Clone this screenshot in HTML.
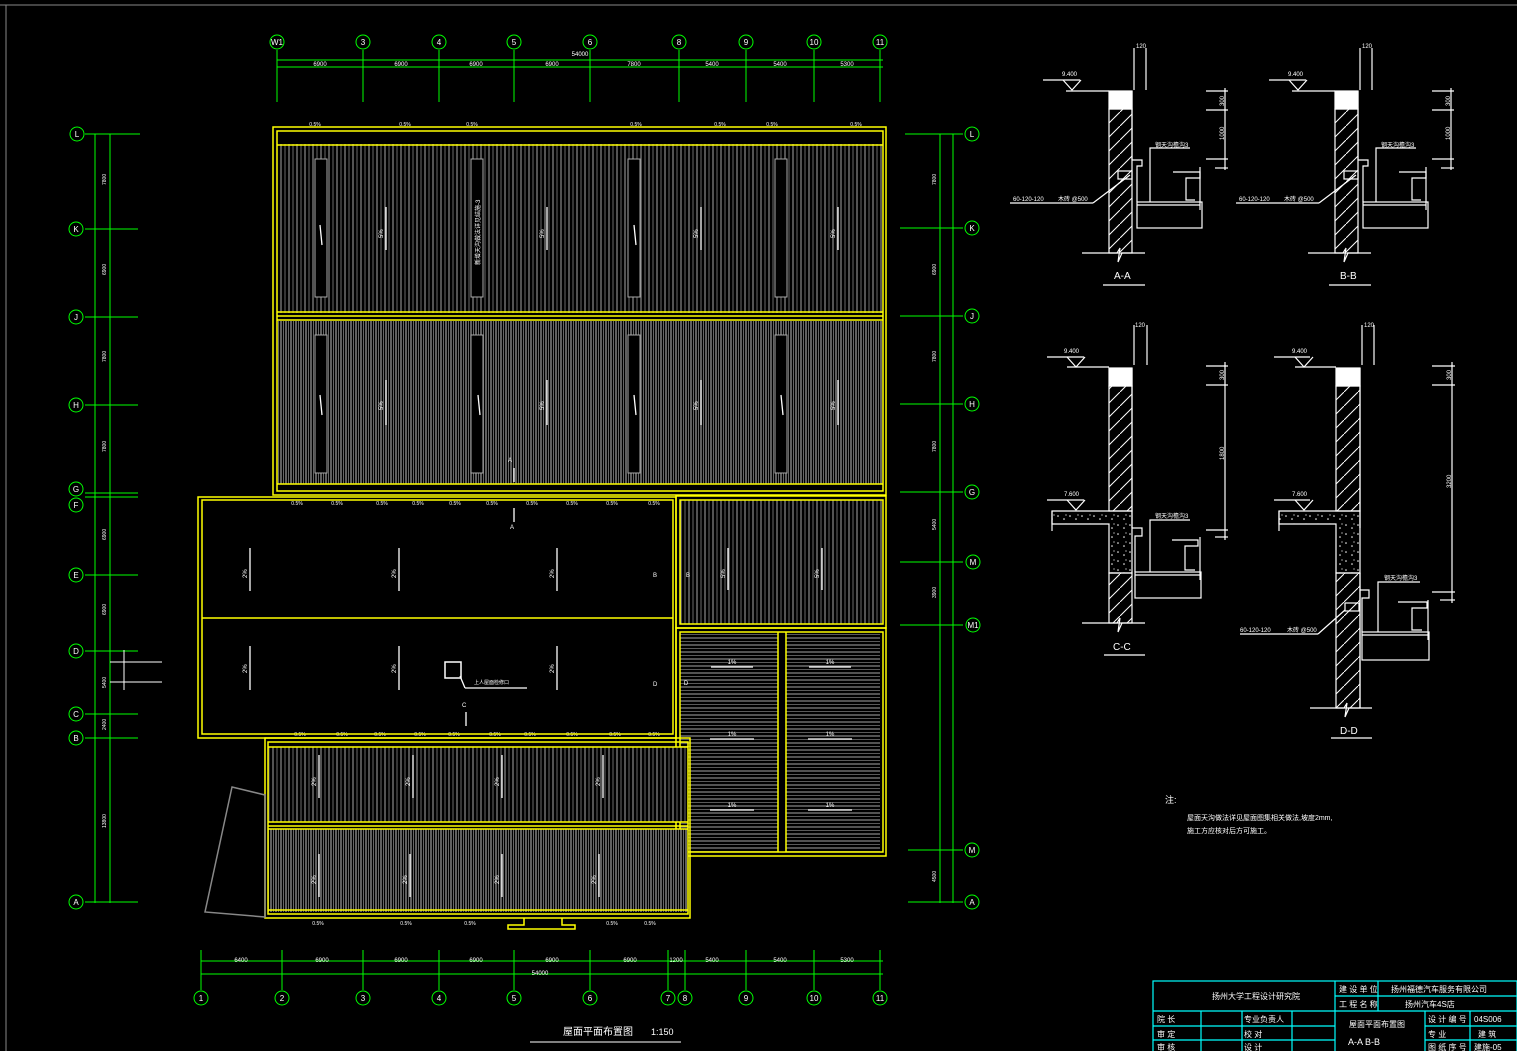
<!DOCTYPE html>
<html><head><meta charset="utf-8"><style>
html,body{margin:0;padding:0;background:#000;}
svg{display:block;}
text{font-family:"Liberation Sans","Noto Sans CJK SC",sans-serif;fill:#fff;}
</style></head><body>
<svg width="1517" height="1051" viewBox="0 0 1517 1051" xmlns="http://www.w3.org/2000/svg">
<defs>
<pattern id="vs" patternUnits="userSpaceOnUse" width="8" height="10"><rect width="8" height="10" fill="#000"/><line x1="1" y1="0" x2="1" y2="10" stroke="#8a8a8a" stroke-width="1.2"/><line x1="5" y1="0" x2="5" y2="10" stroke="#6a6a6a" stroke-width="1"/></pattern>
<pattern id="vsd" patternUnits="userSpaceOnUse" width="5" height="10"><rect width="5" height="10" fill="#000"/><line x1="1" y1="0" x2="1" y2="10" stroke="#8a8a8a" stroke-width="1.4"/><line x1="3.5" y1="0" x2="3.5" y2="10" stroke="#666" stroke-width="1"/></pattern>
<pattern id="hs" patternUnits="userSpaceOnUse" width="10" height="7"><rect width="10" height="7" fill="#000"/><line x1="0" y1="1" x2="10" y2="1" stroke="#8a8a8a" stroke-width="1.2"/><line x1="0" y1="4.5" x2="10" y2="4.5" stroke="#5a5a5a" stroke-width="1"/></pattern>
<pattern id="hatch" patternUnits="userSpaceOnUse" width="14" height="14"><line x1="0" y1="14" x2="14" y2="0" stroke="#fff" stroke-width="1"/></pattern>
<pattern id="conc" patternUnits="userSpaceOnUse" width="12" height="9"><circle cx="2" cy="3" r="0.8" fill="#fff"/><circle cx="8" cy="6" r="0.8" fill="#fff"/><circle cx="10" cy="2" r="0.6" fill="#fff"/></pattern>
</defs>
<rect width="1517" height="1051" fill="#000"/>
<!-- frame -->
<line x1="0" y1="5" x2="1517" y2="5" stroke="#888" stroke-width="1"/>
<line x1="6" y1="5" x2="6" y2="1051" stroke="#888" stroke-width="1"/>

<!-- ===== top axes ===== -->
<g stroke="#0f0" stroke-width="1" fill="none">
<line x1="277" y1="60" x2="883" y2="60"/><line x1="277" y1="67" x2="883" y2="67"/>
<line x1="277" y1="50" x2="277" y2="102"/><line x1="363" y1="50" x2="363" y2="102"/><line x1="439" y1="50" x2="439" y2="102"/><line x1="514" y1="50" x2="514" y2="102"/><line x1="590" y1="50" x2="590" y2="102"/><line x1="679" y1="50" x2="679" y2="102"/><line x1="746" y1="50" x2="746" y2="102"/><line x1="814" y1="50" x2="814" y2="102"/><line x1="880" y1="50" x2="880" y2="102"/>
<circle cx="277" cy="42" r="7"/><circle cx="363" cy="42" r="7"/><circle cx="439" cy="42" r="7"/><circle cx="514" cy="42" r="7"/><circle cx="590" cy="42" r="7"/><circle cx="679" cy="42" r="7"/><circle cx="746" cy="42" r="7"/><circle cx="814" cy="42" r="7"/><circle cx="880" cy="42" r="7"/>
<!-- bottom axes -->
<line x1="201" y1="961" x2="883" y2="961"/><line x1="201" y1="974" x2="883" y2="974"/>
<line x1="201" y1="950" x2="201" y2="990"/><line x1="282" y1="950" x2="282" y2="990"/><line x1="363" y1="950" x2="363" y2="990"/><line x1="439" y1="950" x2="439" y2="990"/><line x1="514" y1="950" x2="514" y2="990"/><line x1="590" y1="950" x2="590" y2="990"/><line x1="668" y1="950" x2="668" y2="990"/><line x1="685" y1="950" x2="685" y2="990"/><line x1="746" y1="950" x2="746" y2="990"/><line x1="814" y1="950" x2="814" y2="990"/><line x1="880" y1="950" x2="880" y2="990"/>
<circle cx="201" cy="998" r="7"/><circle cx="282" cy="998" r="7"/><circle cx="363" cy="998" r="7"/><circle cx="439" cy="998" r="7"/><circle cx="514" cy="998" r="7"/><circle cx="590" cy="998" r="7"/><circle cx="668" cy="998" r="7"/><circle cx="685" cy="998" r="7"/><circle cx="746" cy="998" r="7"/><circle cx="814" cy="998" r="7"/><circle cx="880" cy="998" r="7"/>
<!-- left axes -->
<line x1="95" y1="134" x2="95" y2="903"/><line x1="110" y1="134" x2="110" y2="903"/>
<line x1="85" y1="134" x2="140" y2="134"/><line x1="85" y1="229" x2="138" y2="229"/><line x1="85" y1="317" x2="138" y2="317"/><line x1="85" y1="405" x2="138" y2="405"/><line x1="85" y1="493" x2="138" y2="493"/><line x1="85" y1="497" x2="138" y2="497"/><line x1="85" y1="575" x2="138" y2="575"/><line x1="85" y1="651" x2="138" y2="651"/><line x1="85" y1="714" x2="138" y2="714"/><line x1="85" y1="738" x2="138" y2="738"/><line x1="85" y1="902" x2="138" y2="902"/>
<circle cx="77" cy="134" r="7"/><circle cx="76" cy="229" r="7"/><circle cx="76" cy="317" r="7"/><circle cx="76" cy="405" r="7"/><circle cx="76" cy="489" r="7"/><circle cx="76" cy="505" r="7"/><circle cx="76" cy="575" r="7"/><circle cx="76" cy="651" r="7"/><circle cx="76" cy="714" r="7"/><circle cx="76" cy="738" r="7"/><circle cx="76" cy="902" r="7"/>
<!-- right axes -->
<line x1="940" y1="134" x2="940" y2="903"/><line x1="953" y1="134" x2="953" y2="903"/>
<line x1="905" y1="134" x2="963" y2="134"/><line x1="900" y1="228" x2="963" y2="228"/><line x1="900" y1="316" x2="963" y2="316"/><line x1="900" y1="404" x2="963" y2="404"/><line x1="900" y1="492" x2="963" y2="492"/><line x1="900" y1="562" x2="963" y2="562"/><line x1="900" y1="625" x2="963" y2="625"/><line x1="908" y1="850" x2="963" y2="850"/><line x1="908" y1="902" x2="963" y2="902"/>
<circle cx="972" cy="134" r="7"/><circle cx="972" cy="228" r="7"/><circle cx="972" cy="316" r="7"/><circle cx="972" cy="404" r="7"/><circle cx="972" cy="492" r="7"/><circle cx="973" cy="562" r="7"/><circle cx="973" cy="625" r="7"/><circle cx="972" cy="850" r="7"/><circle cx="972" cy="902" r="7"/>
</g>
<g fill="#fff" font-size="8" text-anchor="middle">
<text x="277" y="45">W1</text><text x="363" y="45">3</text><text x="439" y="45">4</text><text x="514" y="45">5</text><text x="590" y="45">6</text><text x="679" y="45">8</text><text x="746" y="45">9</text><text x="814" y="45">10</text><text x="880" y="45">11</text>
<text x="201" y="1001">1</text><text x="282" y="1001">2</text><text x="363" y="1001">3</text><text x="439" y="1001">4</text><text x="514" y="1001">5</text><text x="590" y="1001">6</text><text x="668" y="1001">7</text><text x="685" y="1001">8</text><text x="746" y="1001">9</text><text x="814" y="1001">10</text><text x="880" y="1001">11</text>
<text x="77" y="137">L</text><text x="76" y="232">K</text><text x="76" y="320">J</text><text x="76" y="408">H</text><text x="76" y="492">G</text><text x="76" y="508">F</text><text x="76" y="578">E</text><text x="76" y="654">D</text><text x="76" y="717">C</text><text x="76" y="741">B</text><text x="76" y="905">A</text>
<text x="972" y="137">L</text><text x="972" y="231">K</text><text x="972" y="319">J</text><text x="972" y="407">H</text><text x="972" y="495">G</text><text x="973" y="565">M</text><text x="973" y="628">M1</text><text x="972" y="853">M</text><text x="972" y="905">A</text>
</g>
<g fill="#fff" font-size="6" text-anchor="middle">
<text x="320" y="66">6900</text><text x="401" y="66">6900</text><text x="476" y="66">6900</text><text x="552" y="66">6900</text><text x="634" y="66">7800</text><text x="712" y="66">5400</text><text x="780" y="66">5400</text><text x="847" y="66">5300</text><text x="580" y="56">54000</text>
<text x="241" y="962">6400</text><text x="322" y="962">6900</text><text x="401" y="962">6900</text><text x="476" y="962">6900</text><text x="552" y="962">6900</text><text x="630" y="962">6900</text><text x="676" y="962">1200</text><text x="712" y="962">5400</text><text x="780" y="962">5400</text><text x="847" y="962">5300</text><text x="540" y="975">54000</text>
</g>

<!-- ===== ROOF ===== -->
<!-- upper block -->
<rect x="277" y="131" width="606" height="360" fill="url(#vs)"/>
<rect x="277" y="131" width="606" height="13" fill="#000"/>
<rect x="277" y="313" width="606" height="8" fill="#000"/>
<rect x="277" y="321" width="606" height="170" fill="url(#vsd)"/>
<rect x="277" y="484" width="606" height="10" fill="#000"/>
<g fill="none" stroke="#ff0" stroke-width="1.5">
<rect x="273" y="127" width="613" height="368"/><rect x="277" y="131" width="606" height="360"/>
<line x1="277" y1="145" x2="883" y2="145"/><line x1="277" y1="312" x2="883" y2="312"/><line x1="277" y1="316" x2="883" y2="316"/><line x1="277" y1="320" x2="883" y2="320"/><line x1="277" y1="484" x2="883" y2="484"/>
</g>
<g fill="#000" stroke="#aaa" stroke-width="1">
<rect x="315" y="159" width="12" height="138"/><rect x="471" y="159" width="12" height="138"/><rect x="628" y="159" width="12" height="138"/><rect x="775" y="159" width="12" height="138"/>
<rect x="315" y="335" width="12" height="138"/><rect x="471" y="335" width="12" height="138"/><rect x="628" y="335" width="12" height="138"/><rect x="775" y="335" width="12" height="138"/>
</g>
<g stroke="#fff" stroke-width="1.3">
<line x1="386" y1="207" x2="386" y2="250"/><line x1="547" y1="207" x2="547" y2="250"/><line x1="701" y1="207" x2="701" y2="250"/><line x1="838" y1="207" x2="838" y2="250"/>
<line x1="386" y1="380" x2="386" y2="425"/><line x1="547" y1="380" x2="547" y2="425"/><line x1="701" y1="380" x2="701" y2="425"/><line x1="838" y1="380" x2="838" y2="425"/>
<line x1="320" y1="225" x2="322" y2="245"/><line x1="634" y1="225" x2="636" y2="245"/><line x1="320" y1="395" x2="322" y2="415"/><line x1="478" y1="395" x2="480" y2="415"/><line x1="634" y1="395" x2="636" y2="415"/><line x1="781" y1="395" x2="783" y2="415"/>
</g>
<g font-size="6" fill="#fff">
<text transform="translate(383,238) rotate(-90)">5%</text><text transform="translate(544,238) rotate(-90)">5%</text><text transform="translate(698,238) rotate(-90)">5%</text><text transform="translate(835,238) rotate(-90)">5%</text>
<text transform="translate(383,410) rotate(-90)">5%</text><text transform="translate(544,410) rotate(-90)">5%</text><text transform="translate(698,410) rotate(-90)">5%</text><text transform="translate(835,410) rotate(-90)">5%</text>
<text transform="translate(480,265) rotate(-90)">新增天沟做法详见结施-3</text>
</g>
<g font-size="5" fill="#fff" text-anchor="middle">
<text x="315" y="126">0.5%</text><text x="405" y="126">0.5%</text><text x="472" y="126">0.5%</text><text x="636" y="126">0.5%</text><text x="720" y="126">0.5%</text><text x="772" y="126">0.5%</text><text x="856" y="126">0.5%</text>
<text x="297" y="505">0.5%</text><text x="337" y="505">0.5%</text><text x="382" y="505">0.5%</text><text x="418" y="505">0.5%</text><text x="455" y="505">0.5%</text><text x="492" y="505">0.5%</text><text x="532" y="505">0.5%</text><text x="572" y="505">0.5%</text><text x="612" y="505">0.5%</text><text x="654" y="505">0.5%</text><text x="706" y="505">0.5%</text><text x="782" y="505">0.5%</text><text x="848" y="505">0.5%</text>
<text x="300" y="736">0.5%</text><text x="342" y="736">0.5%</text><text x="380" y="736">0.5%</text><text x="420" y="736">0.5%</text><text x="454" y="736">0.5%</text><text x="495" y="736">0.5%</text><text x="530" y="736">0.5%</text><text x="572" y="736">0.5%</text><text x="615" y="736">0.5%</text><text x="654" y="736">0.5%</text>
<text x="318" y="925">0.5%</text><text x="406" y="925">0.5%</text><text x="470" y="925">0.5%</text><text x="612" y="925">0.5%</text><text x="650" y="925">0.5%</text>
</g>
<!-- right middle vertical -->
<rect x="680" y="500" width="203" height="124" fill="url(#vs)"/>
<g fill="none" stroke="#ff0" stroke-width="1.5"><rect x="676" y="496" width="210" height="132"/><rect x="680" y="500" width="203" height="124"/></g>
<g stroke="#fff" stroke-width="1.3"><line x1="728" y1="548" x2="728" y2="590"/><line x1="822" y1="548" x2="822" y2="590"/></g>
<g font-size="6"><text transform="translate(725,578) rotate(-90)">5%</text><text transform="translate(819,578) rotate(-90)">5%</text></g>
<!-- right lower horizontal -->
<rect x="680" y="632" width="98" height="220" fill="url(#hs)"/><rect x="786" y="632" width="94" height="220" fill="url(#hs)"/>
<g fill="none" stroke="#ff0" stroke-width="1.5"><rect x="676" y="628" width="210" height="228"/><rect x="680" y="632" width="203" height="220"/><line x1="778" y1="632" x2="778" y2="852"/><line x1="786" y1="632" x2="786" y2="852"/></g>
<g stroke="#fff" stroke-width="1.3"><line x1="711" y1="667" x2="753" y2="667"/><line x1="809" y1="667" x2="851" y2="667"/><line x1="710" y1="739" x2="754" y2="739"/><line x1="808" y1="739" x2="852" y2="739"/><line x1="710" y1="810" x2="754" y2="810"/><line x1="808" y1="810" x2="852" y2="810"/></g>
<g font-size="6" text-anchor="middle"><text x="732" y="664">1%</text><text x="830" y="664">1%</text><text x="732" y="736">1%</text><text x="830" y="736">1%</text><text x="732" y="807">1%</text><text x="830" y="807">1%</text><text x="686" y="685">D</text><text x="688" y="577">B</text></g>
<!-- left middle block -->
<g fill="none" stroke="#ff0" stroke-width="1.5"><rect x="198" y="497" width="478" height="241"/><rect x="202" y="500" width="471" height="234"/><line x1="202" y1="618" x2="673" y2="618"/></g>
<g stroke="#fff" stroke-width="1.3"><line x1="250" y1="548" x2="250" y2="591"/><line x1="399" y1="548" x2="399" y2="591"/><line x1="557" y1="548" x2="557" y2="591"/><line x1="250" y1="646" x2="250" y2="690"/><line x1="399" y1="646" x2="399" y2="690"/><line x1="557" y1="646" x2="557" y2="690"/><line x1="514" y1="468" x2="514" y2="482"/><line x1="466" y1="670" x2="526" y2="688" stroke-width="0"/><line x1="460" y1="676" x2="465" y2="688"/><line x1="465" y1="688" x2="527" y2="688"/><line x1="466" y1="712" x2="466" y2="726"/><line x1="514" y1="508" x2="514" y2="522"/></g>
<rect x="445" y="662" width="16" height="16" fill="none" stroke="#fff" stroke-width="1.5"/>
<g font-size="6"><text transform="translate(247,578) rotate(-90)">2%</text><text transform="translate(396,578) rotate(-90)">2%</text><text transform="translate(554,578) rotate(-90)">2%</text><text transform="translate(247,673) rotate(-90)">2%</text><text transform="translate(396,673) rotate(-90)">2%</text><text transform="translate(554,673) rotate(-90)">2%</text>
<text x="474" y="684" font-size="5">上人屋面检修口</text><text x="653" y="577">B</text><text x="653" y="686">D</text><text x="462" y="707">C</text><text x="510" y="529">A</text><text x="508" y="462">A</text></g>
<!-- bottom block -->
<rect x="268" y="747" width="420" height="75" fill="url(#vs)"/>
<rect x="268" y="829" width="420" height="83" fill="url(#vsd)"/>
<g fill="none" stroke="#ff0" stroke-width="1.5"><rect x="265" y="738" width="425" height="180"/><rect x="268" y="742" width="420" height="172"/><line x1="268" y1="747" x2="688" y2="747"/><line x1="268" y1="822" x2="688" y2="822"/><line x1="268" y1="826" x2="688" y2="826"/><line x1="268" y1="829" x2="688" y2="829"/><line x1="268" y1="910" x2="688" y2="910"/>
<path d="M 524 918 L 524 925 L 508 925 L 508 929 L 575 929 L 575 925 L 562 925 L 562 918"/></g>
<polygon points="232,787 265,795 265,917 205,912" fill="none" stroke="#888" stroke-width="1.5"/>
<g stroke="#fff" stroke-width="1.3"><line x1="319" y1="755" x2="319" y2="798"/><line x1="413" y1="755" x2="413" y2="798"/><line x1="502" y1="755" x2="502" y2="798"/><line x1="603" y1="755" x2="603" y2="798"/><line x1="319" y1="854" x2="319" y2="897"/><line x1="410" y1="854" x2="410" y2="897"/><line x1="502" y1="854" x2="502" y2="897"/><line x1="599" y1="854" x2="599" y2="897"/></g>
<g font-size="6"><text transform="translate(316,786) rotate(-90)">2%</text><text transform="translate(410,786) rotate(-90)">2%</text><text transform="translate(499,786) rotate(-90)">2%</text><text transform="translate(600,786) rotate(-90)">2%</text><text transform="translate(316,884) rotate(-90)">2%</text><text transform="translate(407,884) rotate(-90)">2%</text><text transform="translate(499,884) rotate(-90)">2%</text><text transform="translate(596,884) rotate(-90)">2%</text></g>
<!-- left side small lines -->
<g stroke="#fff" stroke-width="1" fill="none"><line x1="110" y1="662" x2="162" y2="662"/><line x1="110" y1="682" x2="162" y2="682"/><line x1="124" y1="650" x2="124" y2="690"/></g>
<g font-size="5" fill="#fff">
<text transform="translate(106,185) rotate(-90)">7800</text><text transform="translate(106,275) rotate(-90)">6900</text><text transform="translate(106,362) rotate(-90)">7800</text><text transform="translate(106,452) rotate(-90)">7800</text><text transform="translate(106,540) rotate(-90)">6900</text><text transform="translate(106,615) rotate(-90)">6900</text><text transform="translate(106,688) rotate(-90)">5400</text><text transform="translate(106,730) rotate(-90)">2400</text><text transform="translate(106,828) rotate(-90)">13800</text>
<text transform="translate(936,185) rotate(-90)">7800</text><text transform="translate(936,275) rotate(-90)">6900</text><text transform="translate(936,362) rotate(-90)">7800</text><text transform="translate(936,452) rotate(-90)">7800</text><text transform="translate(936,530) rotate(-90)">5400</text><text transform="translate(936,598) rotate(-90)">3900</text><text transform="translate(936,882) rotate(-90)">4500</text>
</g>

<!-- ===== SECTIONS ===== -->
<g id="secA" stroke="#fff" stroke-width="1.2" fill="none">
<line x1="1134" y1="48" x2="1134" y2="90"/><line x1="1146" y1="48" x2="1146" y2="90"/>
<line x1="1043" y1="80" x2="1080" y2="80"/><polyline points="1063,80 1072,90 1081,80"/><line x1="1066" y1="91" x2="1109" y2="91"/>
<rect x="1109" y="91" width="23" height="18" fill="#fff"/>
<rect x="1109" y="109" width="23" height="144" fill="url(#hatch)"/>
<line x1="1132" y1="91" x2="1132" y2="160"/><polyline points="1132,160 1142,160 1142,166 1137,166 1137,202"/>
<line x1="1206" y1="91" x2="1228" y2="91"/><line x1="1206" y1="110" x2="1228" y2="110"/><line x1="1206" y1="159" x2="1228" y2="159"/><line x1="1215" y1="168" x2="1228" y2="168"/><line x1="1225" y1="88" x2="1225" y2="170"/>
<polyline points="1150,202 1150,148 1190,148"/>
<rect x="1137" y="202" width="65" height="26"/><line x1="1137" y1="205" x2="1200" y2="205"/>
<polyline points="1173,172 1200,172 1200,178 1186,178 1186,200 1195,200"/><line x1="1200" y1="167" x2="1200" y2="210"/>
<rect x="1118" y="171" width="14" height="8"/>
<line x1="1010" y1="203" x2="1093" y2="203"/><line x1="1093" y1="203" x2="1130" y2="175"/>
<polyline points="1082,253 1117,253 1120,248 1118,262 1122,253 1145,253"/>
<line x1="1103" y1="285" x2="1145" y2="285"/>
</g>
<g font-size="6" fill="#fff"><text x="1136" y="48">120</text><text x="1062" y="76">9.400</text><text x="1155" y="147">钢天沟檐沟3</text><text x="1013" y="201">60-120-120</text><text x="1058" y="201">木砖 @500</text><text transform="translate(1224,106) rotate(-90)">300</text><text transform="translate(1224,140) rotate(-90)">1000</text></g>
<text x="1114" y="279" font-size="10" fill="#fff">A-A</text>
<use href="#secA" transform="translate(226,0)"/>
<g font-size="6" fill="#fff"><text x="1362" y="48">120</text><text x="1288" y="76">9.400</text><text x="1381" y="147">钢天沟檐沟3</text><text x="1239" y="201">60-120-120</text><text x="1284" y="201">木砖 @500</text><text transform="translate(1450,106) rotate(-90)">300</text><text transform="translate(1450,140) rotate(-90)">1000</text></g>
<text x="1340" y="279" font-size="10" fill="#fff">B-B</text>

<!-- C-C -->
<g stroke="#fff" stroke-width="1.2" fill="none">
<line x1="1134" y1="325" x2="1134" y2="365"/><line x1="1147" y1="325" x2="1147" y2="365"/>
<line x1="1047" y1="357" x2="1084" y2="357"/><polyline points="1067,357 1076,367 1085,357"/><line x1="1067" y1="367" x2="1109" y2="367"/>
<rect x="1109" y="368" width="23" height="18" fill="#fff"/>
<rect x="1109" y="386" width="23" height="125" fill="url(#hatch)"/>
<line x1="1132" y1="368" x2="1132" y2="528"/>
<line x1="1047" y1="500" x2="1084" y2="500"/><polyline points="1067,500 1076,510 1085,500"/>
<path d="M1052 511 L1132 511 L1132 528 L1132 573 L1109 573 L1109 524 L1052 524 Z" fill="url(#conc)"/>
<line x1="1052" y1="511" x2="1052" y2="531"/>
<rect x="1109" y="573" width="23" height="50" fill="url(#hatch)"/>
<polyline points="1132,528 1142,528 1142,536 1135,536 1135,572"/>
<polyline points="1150,572 1150,520 1190,520"/>
<rect x="1135" y="572" width="66" height="26"/><line x1="1135" y1="575" x2="1200" y2="575"/>
<polyline points="1172,540 1198,540 1198,546 1185,546 1185,570 1195,570"/><line x1="1200" y1="537" x2="1200" y2="580"/>
<line x1="1206" y1="366" x2="1228" y2="366"/><line x1="1206" y1="385" x2="1228" y2="385"/><line x1="1206" y1="530" x2="1228" y2="530"/><line x1="1215" y1="537" x2="1228" y2="537"/><line x1="1225" y1="362" x2="1225" y2="540"/>
<polyline points="1082,623 1117,623 1120,618 1118,632 1122,623 1145,623"/>
<line x1="1104" y1="655" x2="1145" y2="655"/>
</g>
<g font-size="6" fill="#fff"><text x="1135" y="327">120</text><text x="1064" y="353">9.400</text><text x="1064" y="496">7.600</text><text x="1155" y="518">钢天沟檐沟3</text><text transform="translate(1224,380) rotate(-90)">300</text><text transform="translate(1224,460) rotate(-90)">1800</text></g>
<text x="1113" y="650" font-size="10" fill="#fff">C-C</text>

<!-- D-D -->
<g stroke="#fff" stroke-width="1.2" fill="none">
<line x1="1362" y1="325" x2="1362" y2="365"/><line x1="1374" y1="325" x2="1374" y2="365"/>
<line x1="1274" y1="357" x2="1310" y2="357"/><polyline points="1295,357 1304,367 1313,357"/><line x1="1295" y1="367" x2="1336" y2="367"/>
<rect x="1336" y="368" width="24" height="18" fill="#fff"/>
<rect x="1336" y="386" width="24" height="125" fill="url(#hatch)"/>
<line x1="1360" y1="368" x2="1360" y2="528"/>
<line x1="1274" y1="500" x2="1310" y2="500"/><polyline points="1295,500 1304,510 1313,500"/>
<path d="M1279 511 L1360 511 L1360 573 L1336 573 L1336 524 L1279 524 Z" fill="url(#conc)"/>
<line x1="1279" y1="511" x2="1279" y2="531"/>
<rect x="1336" y="573" width="24" height="135" fill="url(#hatch)"/>
<line x1="1360" y1="573" x2="1360" y2="708"/>
<polyline points="1360,590 1369,590 1369,598 1362,598 1362,632"/><rect x="1345" y="603" width="14" height="8"/>
<polyline points="1378,632 1378,582 1420,582"/>
<rect x="1362" y="632" width="67" height="28"/><line x1="1362" y1="635" x2="1428" y2="635"/>
<polyline points="1398,602 1427,602 1427,608 1412,608 1412,630 1422,630"/><line x1="1428" y1="600" x2="1428" y2="640"/>
<line x1="1432" y1="366" x2="1455" y2="366"/><line x1="1432" y1="385" x2="1455" y2="385"/><line x1="1432" y1="592" x2="1455" y2="592"/><line x1="1440" y1="600" x2="1455" y2="600"/><line x1="1452" y1="362" x2="1452" y2="603"/>
<line x1="1240" y1="634" x2="1318" y2="634"/><line x1="1318" y1="634" x2="1345" y2="610"/>
<polyline points="1310,708 1344,708 1347,703 1345,717 1349,708 1372,708"/>
<line x1="1331" y1="738" x2="1372" y2="738"/>
</g>
<g font-size="6" fill="#fff"><text x="1364" y="327">120</text><text x="1292" y="353">9.400</text><text x="1292" y="496">7.600</text><text x="1384" y="580">钢天沟檐沟3</text><text x="1240" y="632">60-120-120</text><text x="1287" y="632">木砖 @500</text><text transform="translate(1451,380) rotate(-90)">300</text><text transform="translate(1451,488) rotate(-90)">3200</text></g>
<text x="1340" y="734" font-size="10" fill="#fff">D-D</text>

<!-- notes -->
<g fill="#fff" font-size="7"><text x="1165" y="803" font-size="9">注:</text><text x="1187" y="820">屋面天沟做法详见屋面图集相关做法,坡度2mm,</text><text x="1187" y="833">施工方应核对后方可施工。</text></g>

<!-- title -->
<text x="563" y="1035" font-size="10" fill="#fff">屋面平面布置图</text><text x="651" y="1035" font-size="9" fill="#fff">1:150</text>
<line x1="530" y1="1042" x2="681" y2="1042" stroke="#fff" stroke-width="1"/>

<!-- title block -->
<g stroke="#0ff" stroke-width="1.2" fill="none">
<rect x="1153" y="981" width="364" height="72"/>
<line x1="1153" y1="1011" x2="1517" y2="1011"/><line x1="1153" y1="1026" x2="1335" y2="1026"/><line x1="1153" y1="1040" x2="1335" y2="1040"/>
<line x1="1335" y1="981" x2="1335" y2="1051"/><line x1="1335" y1="996" x2="1517" y2="996"/><line x1="1378" y1="981" x2="1378" y2="1011"/>
<line x1="1201" y1="1011" x2="1201" y2="1051"/><line x1="1242" y1="1011" x2="1242" y2="1051"/><line x1="1292" y1="1011" x2="1292" y2="1051"/>
<line x1="1425" y1="1011" x2="1425" y2="1051"/><line x1="1470" y1="1011" x2="1470" y2="1051"/><line x1="1425" y1="1026" x2="1517" y2="1026"/><line x1="1425" y1="1040" x2="1517" y2="1040"/>
</g>
<g fill="#fff" font-size="8">
<text x="1212" y="999">扬州大学工程设计研究院</text>
<text x="1339" y="992">建 设 单 位</text><text x="1391" y="992">扬州福德汽车服务有限公司</text>
<text x="1339" y="1007">工 程 名 称</text><text x="1405" y="1007">扬州汽车4S店</text>
<text x="1157" y="1022">院 长</text><text x="1244" y="1022">专业负责人</text>
<text x="1157" y="1037">审 定</text><text x="1244" y="1037">校 对</text>
<text x="1157" y="1050">审 核</text><text x="1244" y="1050">设 计</text>
<text x="1349" y="1027">屋面平面布置图</text><text x="1348" y="1045" font-size="9">A-A  B-B</text>
<text x="1428" y="1022">设 计 编 号</text><text x="1474" y="1022">04S006</text>
<text x="1428" y="1037">专 业</text><text x="1478" y="1037">建 筑</text>
<text x="1428" y="1050">图 纸 序 号</text><text x="1474" y="1050">建施-05</text>
</g>
</svg>
</body></html>
